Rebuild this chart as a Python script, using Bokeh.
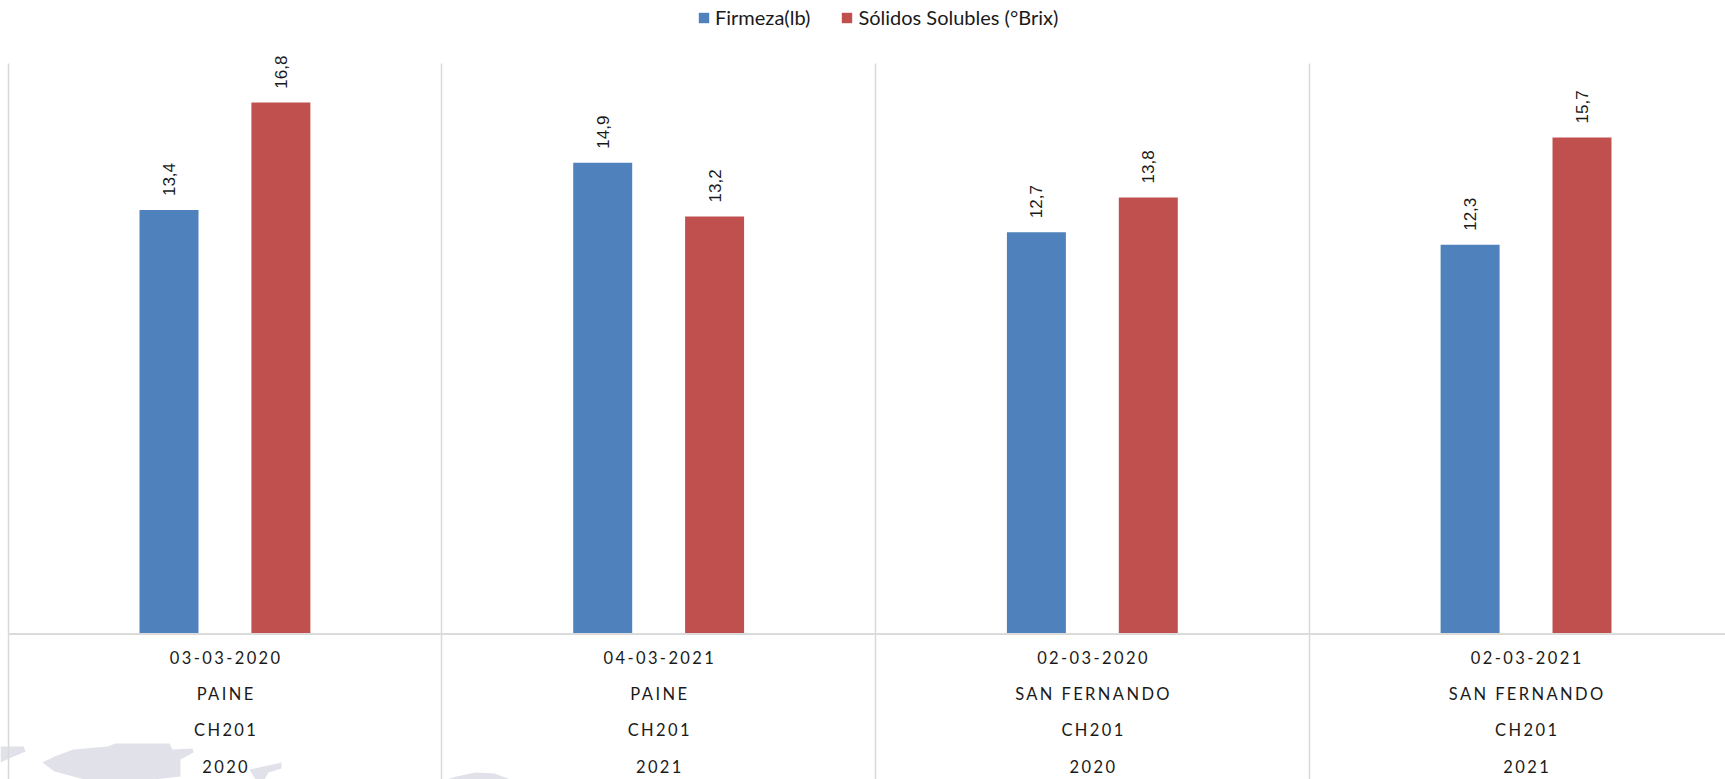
from bokeh.plotting import figure
from bokeh.embed import file_html
from bokeh.resources import INLINE
from bokeh.layouts import column
from bokeh.models import (ColumnDataSource, FixedTicker, Legend, LegendItem, LabelSet,
                          LinearAxis, Range1d)
from bokeh.core.properties import value

fechas = ["03-03-2020", "04-03-2021", "02-03-2020", "02-03-2021"]
localidades = ["PAINE", "PAINE", "SAN FERNANDO", "SAN FERNANDO"]
variedades = ["CH201", "CH201", "CH201", "CH201"]
anios = ["2020", "2021", "2020", "2021"]
firmeza = [13.4, 14.9, 12.7, 12.3]
solidos = [16.8, 13.2, 13.8, 15.7]
etiquetas_firmeza = ["13,4", "14,9", "12,7", "12,3"]
etiquetas_solidos = ["16,8", "13,2", "13,8", "15,7"]

# faint background map fragments at the foot of the page (page pixels)
mapa = [
    [(0, 746), (23, 746), (25, 751), (11, 757), (0, 762)],
    [(42, 762), (54, 756), (73, 749), (107, 746), (115, 743), (169, 743), (172, 749), (192, 748),
     (193, 752), (180, 759), (180, 776), (153, 779), (84, 779), (54, 771)],
    [(249, 769), (268, 765), (281, 762), (281, 768), (268, 772), (264, 779), (255, 779)],
    [(446, 779), (456, 776), (475, 772), (494, 773), (510, 779)],
]

AZUL = "#4F81BD"
ROJO = "#C0504D"
GRIS = "#D9D9D9"

W = 1725
H_TOP = 633
H_BOT = 146
PX_CAT = 433.7
PX_UNIT = 31.6
LEFT_LINE = 7.6
LETTER = 2.4
x_range = Range1d(-LEFT_LINE / PX_CAT, (W - LEFT_LINE) / PX_CAT)
centros = [i + 0.5 for i in range(4)]
bordes = [0, 1, 2, 3, 4]
OFF = 0.129
ANCHO = 0.136

top = figure(width=W, height=H_TOP, x_range=x_range,
             y_range=Range1d(0, H_TOP / PX_UNIT),
             output_backend="svg", toolbar_location=None,
             min_border_left=0, min_border_right=0, min_border_top=0,
             min_border_bottom=0, outline_line_color=None, x_axis_location=None,
             y_axis_location=None)
top.ygrid.visible = False
top.xgrid.ticker = FixedTicker(ticks=bordes)
top.xgrid.grid_line_color = GRIS
top.xgrid.grid_line_width = 1.5
top.xgrid.cross_bounds = (0, 570 / PX_UNIT)

src = ColumnDataSource(dict(
    xa=[c - OFF for c in centros], xr=[c + OFF for c in centros],
    firmeza=firmeza, solidos=solidos,
    la=etiquetas_firmeza, lr=etiquetas_solidos))

ra = top.vbar(x="xa", top="firmeza", width=ANCHO, bottom=0, source=src, fill_color=AZUL, line_color=None)
rr = top.vbar(x="xr", top="solidos", width=ANCHO, bottom=0, source=src, fill_color=ROJO, line_color=None)

for xk, yk, tk in (("xa", "firmeza", "la"), ("xr", "solidos", "lr")):
    top.add_layout(LabelSet(x=xk, y=yk, text=tk, source=src, angle=90, angle_units="deg",
                            text_align="left", text_baseline="middle", y_offset=14,
                            text_font=value("Liberation Sans"), text_font_size="17px",
                            text_color="#1a1a1a"))

leg = Legend(items=[LegendItem(label="Firmeza(lb)", renderers=[ra]),
                    LegendItem(label="Sólidos Solubles (°Brix)", renderers=[rr])],
             orientation="horizontal", location=(697, 604),
             background_fill_alpha=0, border_line_color=None,
             glyph_width=13, glyph_height=13, spacing=30, margin=0, padding=6,
             label_standoff=5, label_text_font="Lato", label_text_font_size="20px",
             label_text_color="#1a1a1a")
top.add_layout(leg, "center")

bot = figure(width=W, height=H_BOT, x_range=x_range, y_range=Range1d(0, H_BOT),
             output_backend="svg", toolbar_location=None,
             min_border_left=0, min_border_right=0, min_border_top=0, min_border_bottom=0,
             outline_line_color=None, x_axis_location=None, y_axis_location=None)
bot.ygrid.visible = False
bot.xgrid.ticker = FixedTicker(ticks=bordes)
bot.xgrid.grid_line_color = GRIS
bot.xgrid.grid_line_width = 1.5
bot.styles = {"letter-spacing": f"{LETTER}px"}

bot.patches(xs=[[(px - LEFT_LINE) / PX_CAT for px, _ in b] for b in mapa],
            ys=[[H_TOP + H_BOT - py for _, py in b] for b in mapa],
            fill_color="#E1E1EA", line_color=None, level="image")

filas = [fechas, localidades, variedades, anios]
standoffs = [11, 44, 80, 120]
for fila, so in zip(filas, standoffs):
    # the browser widens the label by the letter spacing after Bokeh has centred it
    ticks = [c - (len(t) - 1) * LETTER / 2 / PX_CAT for c, t in zip(centros, fila)]
    ax = LinearAxis(fixed_location=H_BOT, ticker=FixedTicker(ticks=ticks),
                    major_label_overrides={k: t for k, t in zip(ticks, fila)},
                    bounds=(0, 4),
                    major_tick_line_color=None, minor_tick_line_color=None,
                    axis_line_color=GRIS, axis_line_width=2.5,
                    major_label_standoff=so, major_label_text_font="Lato",
                    major_label_text_font_size="16.5px", major_label_text_color="#1a1a1a")
    bot.add_layout(ax, "below")

layout = column(top, bot, spacing=0, margin=0)
open("out.html", "w").write(file_html(layout, INLINE))
